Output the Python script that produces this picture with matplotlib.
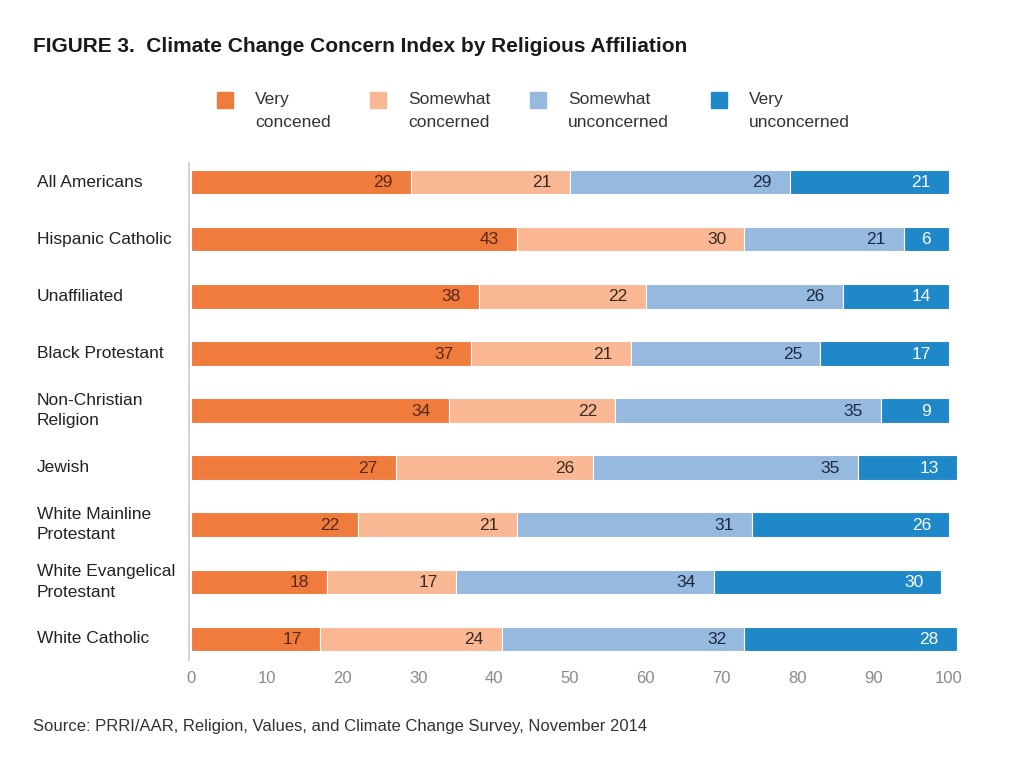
import matplotlib.pyplot as plt
from matplotlib.patches import Rectangle
from matplotlib.transforms import blended_transform_factory

plt.rcParams["font.family"] = ["Liberation Sans", "DejaVu Sans"]

groups = [
    "All Americans",
    "Hispanic Catholic",
    "Unaffiliated",
    "Black Protestant",
    "Non-Christian\nReligion",
    "Jewish",
    "White Mainline\nProtestant",
    "White Evangelical\nProtestant",
    "White Catholic",
]
very_concerned = [29, 43, 38, 37, 34, 27, 22, 18, 17]
somewhat_concerned = [21, 30, 22, 21, 22, 26, 21, 17, 24]
somewhat_unconcerned = [29, 21, 26, 25, 35, 35, 31, 34, 32]
very_unconcerned = [21, 6, 14, 17, 9, 13, 26, 30, 28]

series_labels = ["Very\nconcened", "Somewhat\nconcerned", "Somewhat\nunconcerned", "Very\nunconcerned"]
colors = ["#EF7B3D", "#F9B893", "#96B9E0", "#1F88C9"]
text_colors = ["#5A2815", "#3A2A22", "#1C2A40", "white"]

fig = plt.figure(figsize=(10.24, 7.67), dpi=100)
ax = fig.add_axes([191 / 1024, 1 - 660 / 767, 758 / 1024, 497 / 767])

series = [very_concerned, somewhat_concerned, somewhat_unconcerned, very_unconcerned]
ypos = list(range(len(groups)))
left = [0] * len(groups)
for vals, col, tcol in zip(series, colors, text_colors):
    bars = ax.barh(ypos, vals, left=left, height=0.43, color=col, edgecolor="white", linewidth=0.8)
    for b in bars:
        b.set_clip_on(False)
    for y, l, v in zip(ypos, left, vals):
        ax.annotate(str(v), (l + v, y), xytext=(-13, -0.5), textcoords="offset points",
                    ha="right", va="center", fontsize=12.5, color=tcol,
                    annotation_clip=False)
    left = [a + b for a, b in zip(left, vals)]

ax.set_xlim(0, 100)
ax.set_ylim(8 + 21 / 57.1, -19 / 57.1)
ax.set_xticks(range(0, 101, 10))
ax.tick_params(axis="x", length=0, pad=8, labelsize=12, labelcolor="#8A8A8A")
ax.set_yticks([])
for s in ["top", "right", "bottom"]:
    ax.spines[s].set_visible(False)
ax.spines["left"].set_color("#CCCCCC")
ax.spines["left"].set_linewidth(1.2)
ax.spines["left"].set_position(("data", -0.3))

trans = blended_transform_factory(fig.transFigure, ax.transData)
for y, g in zip(ypos, groups):
    ax.text(37 / 1024, y, g, transform=trans, ha="left", va="center",
            fontsize=12.5, color="#222222", linespacing=1.45)

fig.text(33 / 1024, 1 - 46 / 767, "FIGURE 3.  Climate Change Concern Index by Religious Affiliation",
         fontsize=15, fontweight="bold", color="#1A1A1A", va="center")

leg_x = [217, 370, 530, 711]
for x, lab, col in zip(leg_x, series_labels, colors):
    fig.patches.append(Rectangle((x / 1024, 1 - 108 / 767), 16 / 1024, 16 / 767,
                                 transform=fig.transFigure, color=col))
    fig.text((x + 38) / 1024, 1 - 111 / 767, lab, fontsize=12.5, color="#333333",
             va="center", ha="left", linespacing=1.6)

fig.text(33 / 1024, 1 - 727 / 767,
         "Source: PRRI/AAR, Religion, Values, and Climate Change Survey, November 2014",
         fontsize=12, color="#333333", va="center")

fig.savefig("out.png", dpi=100, facecolor="white")
